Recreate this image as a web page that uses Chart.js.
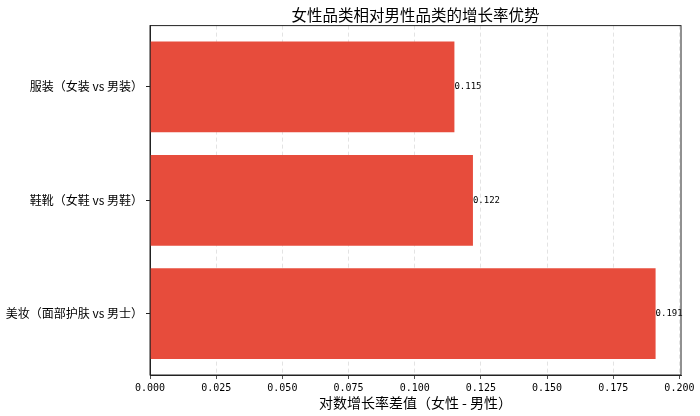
<!DOCTYPE html>
<html>
<head>
<meta charset="utf-8">
<script src="https://cdn.jsdelivr.net/npm/chart.js@4"></script>
<style>
  html, body { margin: 0; padding: 0; background: #fff; }
  #wrap { width: 700px; height: 416px; }
</style>
</head>
<body>
<div id="wrap"><canvas id="growthChart" width="700" height="416"></canvas></div>
<script>
const categories = ['服装（女装 vs 男装）', '鞋靴（女鞋 vs 男鞋）', '美妆（面部护肤 vs 男士）'];
const values = [0.115, 0.122, 0.191];
const xTicks = [0, 0.025, 0.05, 0.075, 0.1, 0.125, 0.15, 0.175, 0.2];

const FONT = "'Noto Sans CJK SC', 'DejaVu Sans', sans-serif";
const NUM_FONT = "'DejaVu Sans Mono', monospace";

// black frame around the plot area, like matplotlib spines
const framePlugin = {
  id: 'frame',
  afterDraw(chart) {
    const { ctx, chartArea: a } = chart;
    ctx.save();
    ctx.strokeStyle = '#222';
    ctx.lineWidth = 1;
    ctx.strokeRect(a.left, a.top, a.right - a.left, a.bottom - a.top);
    ctx.restore();
  }
};

// value text at the end of each bar
const valueLabels = {
  id: 'valueLabels',
  afterDatasetsDraw(chart) {
    const { ctx } = chart;
    const meta = chart.getDatasetMeta(0);
    ctx.save();
    ctx.font = '9px ' + NUM_FONT;
    ctx.fillStyle = '#000';
    ctx.textAlign = 'left';
    ctx.textBaseline = 'middle';
    meta.data.forEach((bar, i) => {
      ctx.fillText(values[i].toFixed(3), bar.x, bar.y);
    });
    ctx.restore();
  }
};

document.addEventListener('DOMContentLoaded', () => {
  const ctx = document.getElementById('growthChart').getContext('2d');

  new Chart(ctx, {
    type: 'bar',
    data: {
      datasets: [{
        data: categories.map((c, i) => ({ x: values[i], y: i })),
        backgroundColor: '#e74c3c',
        borderWidth: 0,
        barPercentage: 0.8,
        categoryPercentage: 1
      }]
    },
    options: {
      indexAxis: 'y',
      responsive: false,
      animation: false,
      layout: { padding: { left: 0, right: 19, top: 0, bottom: 0 } },
      plugins: {
        legend: { display: false },
        tooltip: { enabled: false },
        title: {
          display: true,
          text: '女性品类相对男性品类的增长率优势',
          fullSize: false,
          color: '#000',
          font: { family: FONT, size: 15.5, weight: 'normal' },
          padding: { top: 6, bottom: 1 }
        }
      },
      scales: {
        x: {
          type: 'linear',
          min: 0,
          max: 0.2006,
          afterBuildTicks: s => { s.ticks = xTicks.map(v => ({ value: v })); },
          afterFit: s => { s.height = 41; },
          ticks: {
            color: '#000',
            padding: 3,
            maxRotation: 0,
            font: { family: NUM_FONT, size: 10 },
            callback: v => v.toFixed(3)
          },
          grid: {
            color: '#dcdcdc',
            lineWidth: 0.8,
            tickColor: '#222',
            tickLength: 4,
            tickBorderDash: []
          },
          border: { display: true, color: '#222', width: 1, dash: [4, 3] },
          title: {
            display: true,
            text: '对数增长率差值（女性 - 男性）',
            color: '#000',
            font: { family: FONT, size: 14 },
            padding: { top: 0, bottom: 5 }
          }
        },
        y: {
          type: 'linear',
          reverse: true,
          offset: false,
          min: -0.54,
          max: 2.54,
          afterBuildTicks: s => { s.ticks = categories.map((c, i) => ({ value: i })); },
          afterFit: s => { s.width = 150; },
          ticks: {
            color: '#000',
            padding: 3,
            font: { family: FONT, size: 12 },
            callback: v => categories[v]
          },
          grid: {
            offset: false,
            drawOnChartArea: false,
            tickColor: '#222',
            tickLength: 4
          },
          border: { display: true, color: '#222', width: 1 }
        }
      }
    },
    plugins: [framePlugin, valueLabels]
  });
});
</script>
</body>
</html>
